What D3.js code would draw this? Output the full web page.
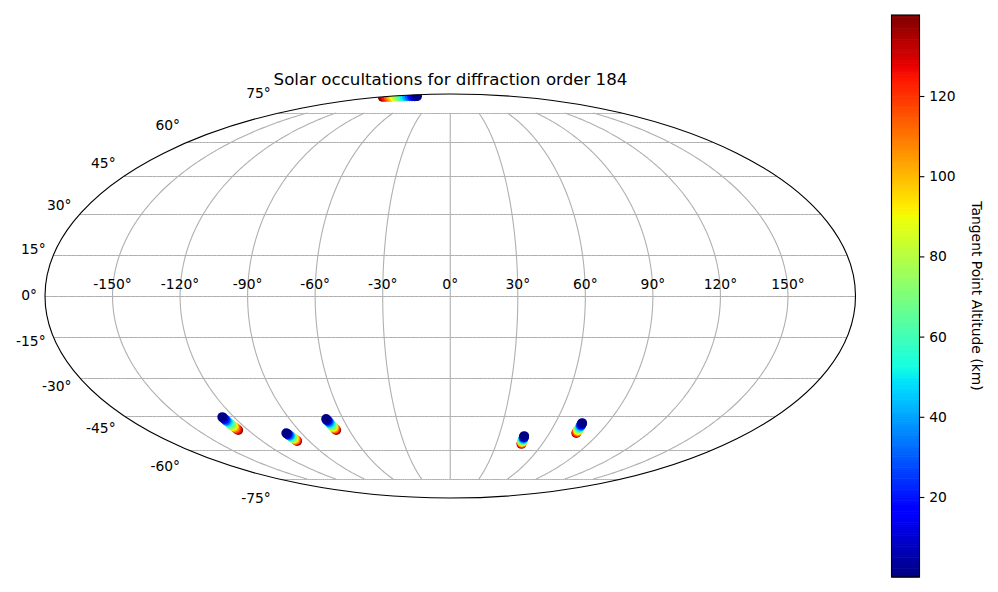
<!DOCTYPE html>
<html><head><meta charset="utf-8">
<script src="https://cdn.jsdelivr.net/npm/d3@7"></script>
<style>html,body{margin:0;padding:0;background:#fff}svg{display:block}text{font-family:"DejaVu Sans";fill:#000}</style>
</head><body><svg id="c" width="998" height="592"></svg>
<script>
const titleText = "Solar occultations for diffraction order 184";
const colorbarLabel = "Tangent Point Altitude (km)";
const lonTicks = [-150,-120,-90,-60,-30,0,30,60,90,120,150];
const latTicks = [-75,-60,-45,-30,-15,0,15,30,45,60,75];
const altTicks = [20,40,60,80,100,120];
const altDomain = [0.05,140.2];
const altitudes = [138,125,113,101,90,80,70,60,50,40,30,20,10,1];
const trackALat = [-51.1,-50.7,-50.2,-49.8,-49.4,-49.0,-48.6,-48.1,-47.7,-47.3,-46.9,-46.5,-46.0,-45.6];
const trackALon = [-125.9,-126.0,-126.0,-126.1,-126.1,-126.2,-126.2,-126.3,-126.3,-126.4,-126.4,-126.4,-126.5,-126.5];
const trackBLat = [-55.9,-55.6,-55.4,-55.1,-54.8,-54.6,-54.3,-54.0,-53.7,-53.5,-53.2,-52.9,-52.7,-52.4];
const trackBLon = [-97.7,-97.8,-97.9,-98.0,-98.2,-98.3,-98.4,-98.5,-98.6,-98.7,-98.9,-99.0,-99.1,-99.2];
const trackCLat = [-51.1,-50.7,-50.4,-50.0,-49.7,-49.3,-48.9,-48.6,-48.2,-47.8,-47.5,-47.1,-46.8,-46.4];
const trackCLon = [-67.7,-67.8,-68.0,-68.1,-68.3,-68.4,-68.5,-68.7,-68.8,-68.9,-69.1,-69.2,-69.4,-69.5];
const trackDLat = [-57.2,-56.9,-56.7,-56.4,-56.1,-55.9,-55.6,-55.3,-55.0,-54.8,-54.5,-54.2,-54.0,-53.7];
const trackDLon = [46.4,46.3,46.3,46.2,46.2,46.1,46.1,46.0,45.9,45.9,45.8,45.7,45.7,45.6];
const trackELat = [-52.4,-52.1,-51.7,-51.4,-51.1,-50.7,-50.4,-50.1,-49.8,-49.4,-49.1,-48.8,-48.4,-48.1];
const trackELon = [76.2,76.1,76.1,76.0,76.0,75.9,75.8,75.8,75.7,75.7,75.6,75.5,75.5,75.4];
const trackFLat = [86.3,86.35,86.4,86.45,86.5,86.55,86.6,86.65,86.7,86.75,86.8,86.85,86.9,87.0];
const trackFLon = [-177,-171,-165,-159,-153,-147,-141,-135,-129,-123,-117,-111,-105,-100];
const tracks = [[trackALat,trackALon],[trackBLat,trackBLon],[trackCLat,trackCLon],[trackDLat,trackDLon],[trackELat,trackELon],[trackFLat,trackFLon]];

// Matplotlib's jet colormap
function seg(pts,t){for(let i=1;i<pts.length;i++){if(t<=pts[i][0]){const a=pts[i-1],b=pts[i];return a[1]+(b[1]-a[1])*(t-a[0])/(b[0]-a[0]);}}return pts[pts.length-1][1];}
const jetR=[[0,0],[0.35,0],[0.66,1],[0.89,1],[1,0.5]];
const jetG=[[0,0],[0.125,0],[0.375,1],[0.64,1],[0.91,0],[1,0]];
const jetB=[[0,0.5],[0.11,1],[0.34,1],[0.65,0],[1,0]];
const jet=t=>d3.rgb(255*seg(jetR,t),255*seg(jetG,t),255*seg(jetB,t)).formatRgb();

const svg=d3.select("#c");
const R2=Math.SQRT2, rad=Math.PI/180;
const X=d3.scaleLinear().domain([-2*R2,2*R2]).range([45,855.5]);
const Y=d3.scaleLinear().domain([-R2,R2]).range([498,94]);
const cx=X(0), cy=Y(0);
function theta(lat){let phi=lat*rad,t=phi;if(Math.abs(lat)>=90)return phi;
  for(let i=0;i<60;i++){const f=2*t+Math.sin(2*t)-Math.PI*Math.sin(phi);const d=2+2*Math.cos(2*t);if(Math.abs(d)<1e-9)break;t-=f/d;}return t;}
function mx(lon,lat){return X(2*R2/Math.PI*lon*rad*Math.cos(theta(lat)));}
function my(lat){return Y(R2*Math.sin(theta(lat)));}

const defs=svg.append("defs");
defs.append("clipPath").attr("id","globe").append("ellipse")
  .attr("cx",cx).attr("cy",cy).attr("rx",X(2*R2)-cx).attr("ry",cy-Y(R2));
const plot=svg.append("g").attr("clip-path","url(#globe)");

// graticule
const line=d3.line().x(d=>d[0]).y(d=>d[1]);
const lonSamples=d3.range(-180,180.5,2);
const latSamples=d3.range(-75,75.25,0.5);
plot.append("g").selectAll("path").data(lonTicks).join("path").attr("fill","none").attr("stroke","#b0b0b0").attr("stroke-width",1.11)
  .attr("d",l=>line(latSamples.map(p=>[mx(l,p),my(p)])));
plot.append("g").selectAll("path").data(latTicks).join("path").attr("fill","none").attr("stroke","#b0b0b0").attr("stroke-width",1)
  .attr("d",p=>line(lonSamples.map(l=>[mx(l,p),Math.round(my(p))+0.5])));

// scatter
const C=d3.scaleLinear().domain(altDomain).range([0,1]);
tracks.forEach(([la,lo])=>{
  plot.append("g").selectAll("circle").data(altitudes).join("circle")
    .attr("cx",(d,i)=>mx(lo[i],la[i])).attr("cy",(d,i)=>my(la[i])).attr("r",4.9)
    .attr("fill",d=>jet(C(d)));
});

// spine
svg.append("ellipse").attr("cx",cx).attr("cy",cy).attr("rx",X(2*R2)-cx).attr("ry",cy-Y(R2))
  .attr("fill","none").attr("stroke","#000").attr("stroke-width",1.11);

// tick labels
svg.append("g").selectAll("text").data(lonTicks).join("text")
  .attr("x",l=>mx(l,0)).attr("y",cy-7).attr("text-anchor","middle").attr("font-size",13.89)
  .text(l=>l+"°");
svg.append("g").selectAll("text").data(latTicks).join("text")
  .attr("x",p=>mx(-180,p)-8).attr("y",p=>cy-1.107*(cy-my(p))+4.2)
  .attr("text-anchor","end").attr("font-size",13.89).text(p=>p+"°");

svg.append("text").attr("x",450.5).attr("y",85).attr("text-anchor","middle").attr("font-size",16.67).text(titleText);

// colorbar
const barX=891.5, barW=28;
const B=d3.scaleLinear().domain(altDomain).range([577,15]);
const levels=d3.range(256);
svg.append("g").selectAll("rect").data(levels).join("rect")
  .attr("x",barX).attr("width",barW)
  .attr("y",i=>B(altDomain[0]+(altDomain[1]-altDomain[0])*(i+1)/256))
  .attr("height",i=>B(altDomain[0]+(altDomain[1]-altDomain[0])*i/256)-B(altDomain[0]+(altDomain[1]-altDomain[0])*(i+1)/256)+0.6)
  .attr("fill",i=>jet((i+0.5)/256));
svg.append("rect").attr("x",barX).attr("y",15).attr("width",barW).attr("height",562)
  .attr("fill","none").attr("stroke","#000").attr("stroke-width",1.11);
const axis=d3.axisRight(B).tickValues(altTicks).tickSize(4.86).tickPadding(4.86).tickFormat(d3.format("d"));
const ag=svg.append("g").attr("transform",`translate(${barX+barW},0)`).call(axis);
ag.select(".domain").remove();
ag.selectAll("line").attr("stroke","#000").attr("stroke-width",1.11);
ag.selectAll("text").attr("font-size",13.89).attr("font-family","DejaVu Sans");
svg.append("text").attr("transform","translate(972,296) rotate(90)").attr("text-anchor","middle").attr("font-size",13.89).text(colorbarLabel);
</script></body></html>
